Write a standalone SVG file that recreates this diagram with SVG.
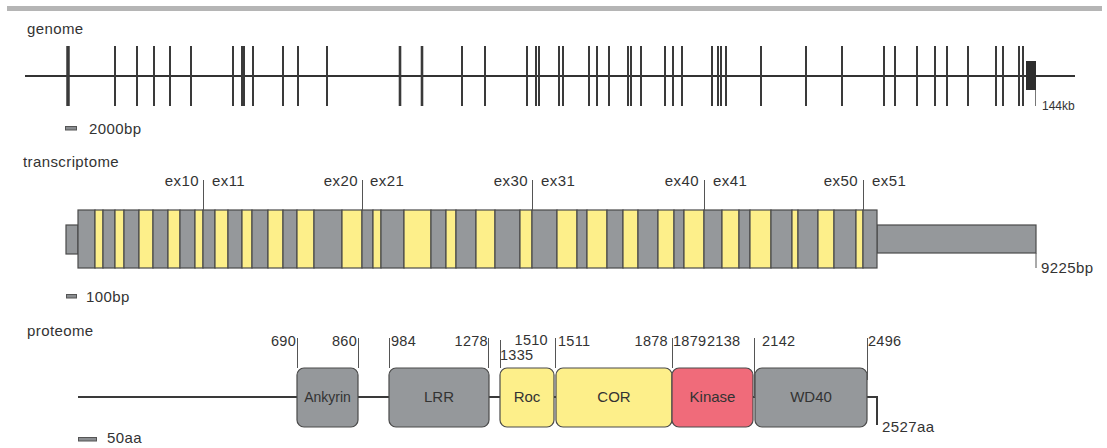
<svg xmlns="http://www.w3.org/2000/svg" width="1107" height="448" viewBox="0 0 1107 448">
<style>
text{font-family:"Liberation Sans",Arial,sans-serif;fill:#333;}
.lbl{font-size:15px;letter-spacing:0.4px;}
.num{font-size:14.5px;letter-spacing:0.3px;}
.dom{font-size:15px;text-anchor:middle;}
.tick{stroke:#3a3a3a;stroke-width:2;}
.g{fill:#95989b;stroke:#4a4a4a;stroke-width:1.2;}
.y{fill:#fdef8a;stroke:#4a4a4a;stroke-width:1.2;}
.lead{stroke:#555;stroke-width:1;fill:none;}
.scale{fill:#8a8d90;stroke:#555;stroke-width:1;}
</style>
<rect x="7" y="6" width="1095" height="5" fill="#b5b5b5"/>

<g id="genome">
<text class="lbl" x="27" y="34">genome</text>
<line x1="25" y1="76" x2="1075" y2="76" stroke="#333" stroke-width="2"/>
<g class="tick">
<line x1="68" y1="46" x2="68" y2="106" stroke-width="3.5"/>
<line x1="115" y1="46" x2="115" y2="106"/>
<line x1="137" y1="46" x2="137" y2="106"/>
<line x1="154" y1="46" x2="154" y2="106"/>
<line x1="170" y1="46" x2="170" y2="106"/>
<line x1="191" y1="46" x2="191" y2="106"/>
<line x1="233" y1="46" x2="233" y2="106"/>
<line x1="242" y1="46" x2="242" y2="106"/>
<line x1="244" y1="46" x2="244" y2="106"/>
<line x1="253" y1="46" x2="253" y2="106"/>
<line x1="283" y1="46" x2="283" y2="106"/>
<line x1="298" y1="46" x2="298" y2="106"/>
<line x1="327" y1="46" x2="327" y2="106"/>
<line x1="400" y1="46" x2="400" y2="106" stroke-width="2.6"/>
<line x1="422" y1="46" x2="422" y2="106" stroke-width="2.6"/>
<line x1="462" y1="46" x2="462" y2="106"/>
<line x1="485" y1="46" x2="485" y2="106"/>
<line x1="527" y1="46" x2="527" y2="106"/>
<line x1="536" y1="46" x2="536" y2="106"/>
<line x1="539" y1="46" x2="539" y2="106"/>
<line x1="559" y1="46" x2="559" y2="106"/>
<line x1="563" y1="46" x2="563" y2="106"/>
<line x1="589" y1="46" x2="589" y2="106"/>
<line x1="597" y1="46" x2="597" y2="106"/>
<line x1="609" y1="46" x2="609" y2="106"/>
<line x1="628" y1="46" x2="628" y2="106"/>
<line x1="631" y1="46" x2="631" y2="106"/>
<line x1="641" y1="46" x2="641" y2="106"/>
<line x1="665" y1="46" x2="665" y2="106"/>
<line x1="673" y1="46" x2="673" y2="106"/>
<line x1="682" y1="46" x2="682" y2="106"/>
<line x1="712" y1="46" x2="712" y2="106"/>
<line x1="718" y1="46" x2="718" y2="106"/>
<line x1="721" y1="46" x2="721" y2="106"/>
<line x1="726" y1="46" x2="726" y2="106"/>
<line x1="761" y1="46" x2="761" y2="106"/>
<line x1="806" y1="46" x2="806" y2="106"/>
<line x1="842" y1="46" x2="842" y2="106"/>
<line x1="884" y1="46" x2="884" y2="106"/>
<line x1="895" y1="46" x2="895" y2="106"/>
<line x1="917" y1="46" x2="917" y2="106"/>
<line x1="935" y1="46" x2="935" y2="106"/>
<line x1="947" y1="46" x2="947" y2="106"/>
<line x1="968" y1="46" x2="968" y2="106"/>
<line x1="996" y1="46" x2="996" y2="106"/>
<line x1="1003" y1="46" x2="1003" y2="106"/>
<line x1="1019" y1="46" x2="1019" y2="106"/>
<line x1="1023" y1="46" x2="1023" y2="106"/>
</g>
<rect x="1026" y="61" width="10" height="29" fill="#2e2e2e"/>
<line x1="1035.5" y1="90" x2="1035.5" y2="106" stroke="#777" stroke-width="1"/>
<text x="1042" y="110" style="font-size:12px">144kb</text>
<rect class="scale" x="65.5" y="126.5" width="11" height="3.5"/>
<text class="lbl" x="89" y="134">2000bp</text>
</g>

<g id="transcriptome">
<text class="lbl" x="23" y="167">transcriptome</text>
<rect class="g" x="66" y="225" width="12" height="29"/>
<rect class="g" x="877" y="225" width="159" height="28"/>
<g>
<rect class="g" x="78" y="210" width="17" height="58"/>
<rect class="y" x="95" y="210" width="8" height="58"/>
<rect class="g" x="103" y="210" width="12" height="58"/>
<rect class="y" x="115" y="210" width="9" height="58"/>
<rect class="g" x="124" y="210" width="15" height="58"/>
<rect class="y" x="139" y="210" width="14" height="58"/>
<rect class="g" x="153" y="210" width="15" height="58"/>
<rect class="y" x="168" y="210" width="12" height="58"/>
<rect class="g" x="180" y="210" width="15" height="58"/>
<rect class="y" x="195" y="210" width="8" height="58"/>
<rect class="g" x="203" y="210" width="12" height="58"/>
<rect class="y" x="215" y="210" width="13" height="58"/>
<rect class="g" x="228" y="210" width="14" height="58"/>
<rect class="y" x="242" y="210" width="10" height="58"/>
<rect class="g" x="252" y="210" width="16" height="58"/>
<rect class="y" x="268" y="210" width="15" height="58"/>
<rect class="g" x="283" y="210" width="14" height="58"/>
<rect class="y" x="297" y="210" width="17" height="58"/>
<rect class="g" x="314" y="210" width="28" height="58"/>
<rect class="y" x="342" y="210" width="20" height="58"/>
<rect class="g" x="362" y="210" width="11" height="58"/>
<rect class="y" x="373" y="210" width="8" height="58"/>
<rect class="g" x="381" y="210" width="23" height="58"/>
<rect class="y" x="404" y="210" width="27" height="58"/>
<rect class="g" x="431" y="210" width="15" height="58"/>
<rect class="y" x="446" y="210" width="10" height="58"/>
<rect class="g" x="456" y="210" width="20" height="58"/>
<rect class="y" x="476" y="210" width="19" height="58"/>
<rect class="g" x="495" y="210" width="25" height="58"/>
<rect class="y" x="520" y="210" width="12" height="58"/>
<rect class="g" x="532" y="210" width="25" height="58"/>
<rect class="y" x="557" y="210" width="20" height="58"/>
<rect class="g" x="577" y="210" width="10" height="58"/>
<rect class="y" x="587" y="210" width="20" height="58"/>
<rect class="g" x="607" y="210" width="16" height="58"/>
<rect class="y" x="623" y="210" width="15" height="58"/>
<rect class="g" x="638" y="210" width="20" height="58"/>
<rect class="y" x="658" y="210" width="16" height="58"/>
<rect class="g" x="674" y="210" width="10" height="58"/>
<rect class="y" x="684" y="210" width="20" height="58"/>
<rect class="g" x="704" y="210" width="18" height="58"/>
<rect class="y" x="722" y="210" width="17" height="58"/>
<rect class="g" x="739" y="210" width="11" height="58"/>
<rect class="y" x="750" y="210" width="21" height="58"/>
<rect class="g" x="771" y="210" width="21" height="58"/>
<rect class="y" x="792" y="210" width="6" height="58"/>
<rect class="g" x="798" y="210" width="20" height="58"/>
<rect class="y" x="818" y="210" width="16" height="58"/>
<rect class="g" x="834" y="210" width="22" height="58"/>
<rect class="y" x="856" y="210" width="7" height="58"/>
<rect class="g" x="863" y="210" width="14" height="58"/>
</g>
<g class="lead">
<line x1="203.5" y1="180" x2="203.5" y2="210"/>
<line x1="362.5" y1="180" x2="362.5" y2="210"/>
<line x1="532.5" y1="180" x2="532.5" y2="210"/>
<line x1="704.5" y1="180" x2="704.5" y2="210"/>
<line x1="863.5" y1="180" x2="863.5" y2="210"/>
<line x1="1036" y1="253" x2="1036" y2="268"/>
</g>
<text class="lbl" x="199" y="186" text-anchor="end">ex10</text>
<text class="lbl" x="212" y="186">ex11</text>
<text class="lbl" x="358" y="186" text-anchor="end">ex20</text>
<text class="lbl" x="370" y="186">ex21</text>
<text class="lbl" x="528" y="186" text-anchor="end">ex30</text>
<text class="lbl" x="541" y="186">ex31</text>
<text class="lbl" x="699" y="186" text-anchor="end">ex40</text>
<text class="lbl" x="713" y="186">ex41</text>
<text class="lbl" x="858" y="186" text-anchor="end">ex50</text>
<text class="lbl" x="872" y="186">ex51</text>
<text class="lbl" x="1041" y="273">9225bp</text>
<rect class="scale" x="66.5" y="294.5" width="10" height="3.5"/>
<text class="lbl" x="86" y="302">100bp</text>
</g>

<g id="proteome">
<text class="lbl" x="27" y="336">proteome</text>
<polyline points="78,397 867,397 877,397 877,425" fill="none" stroke="#3a3a3a" stroke-width="2"/>
<g id="ankyrin"><rect class="g" x="297" y="368" width="61" height="59" rx="7"/><text class="dom" x="327.5" y="402" style="font-size:14px">Ankyrin</text></g>
<g id="lrr"><rect class="g" x="389" y="368" width="100" height="59" rx="7"/><text class="dom" x="439" y="402">LRR</text></g>
<g id="roc"><rect class="y" x="500" y="368" width="54" height="59" rx="7"/><text class="dom" x="527" y="402">Roc</text></g>
<g id="cor"><rect class="y" x="556" y="368" width="116" height="59" rx="7"/><text class="dom" x="614" y="402">COR</text></g>
<g id="kinase"><rect x="672" y="368" width="81" height="59" rx="7" fill="#f06b7a" stroke="#4a4a4a" stroke-width="1.2"/><text class="dom" x="712.5" y="402">Kinase</text></g>
<g id="wd40"><rect class="g" x="755" y="368" width="112" height="59" rx="7"/><text class="dom" x="811" y="402">WD40</text></g>
<g class="lead">
<line x1="297.5" y1="338" x2="297.5" y2="368"/>
<line x1="358.5" y1="338" x2="358.5" y2="368"/>
<line x1="389.5" y1="338" x2="389.5" y2="368"/>
<line x1="488.5" y1="338" x2="488.5" y2="368"/>
<line x1="500.5" y1="340" x2="500.5" y2="368"/>
<line x1="555.5" y1="338" x2="555.5" y2="368"/>
<line x1="672.5" y1="338" x2="672.5" y2="368"/>
<line x1="754.5" y1="338" x2="754.5" y2="397"/>
<line x1="867.5" y1="338" x2="867.5" y2="380"/>
</g>
<g class="num">
<text x="296" y="346" text-anchor="end">690</text>
<text x="357" y="346" text-anchor="end">860</text>
<text x="391" y="346">984</text>
<text x="488" y="346" text-anchor="end">1278</text>
<text x="548" y="345" text-anchor="end">1510</text>
<text x="500" y="360">1335</text>
<text x="558" y="346">1511</text>
<text x="668" y="346" text-anchor="end">1878</text>
<text x="673" y="346">1879</text>
<text x="707" y="346">2138</text>
<text x="762" y="346">2142</text>
<text x="868" y="346">2496</text>
</g>
<text class="lbl" x="882" y="432">2527aa</text>
<rect class="scale" x="78.5" y="437.5" width="18" height="3.5"/>
<text class="lbl" x="107" y="443">50aa</text>
</g>
</svg>
